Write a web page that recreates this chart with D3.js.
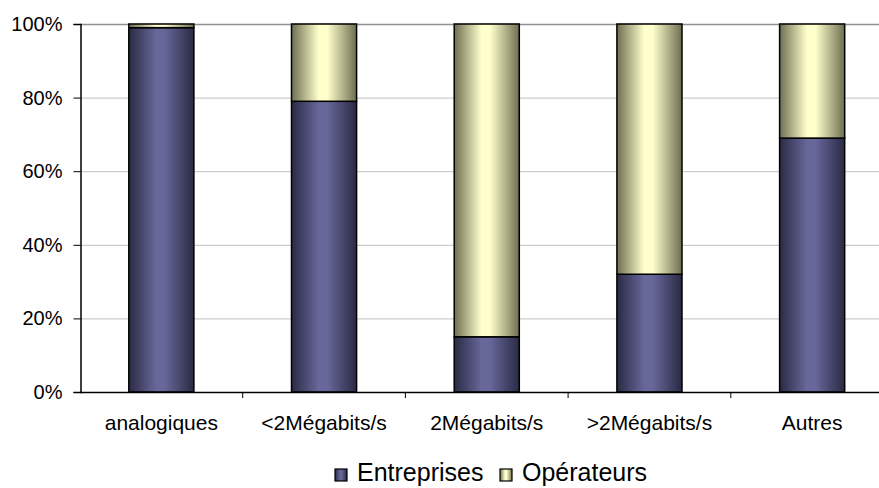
<!DOCTYPE html>
<meta charset="utf-8">
<style>
    body { margin: 0; background: #fff; }
    text { font-family: "Liberation Sans", Arial, sans-serif; fill: #000; }
    .grid line { stroke: #c0c0c0; stroke-width: 1; }
    .bar rect { stroke: #000; stroke-width: 1.5; }
</style>
<body>
<script src="https://cdnjs.cloudflare.com/ajax/libs/d3/7.8.5/d3.min.js"></script>
<script>
    var categories = ["analogiques", "<2Mégabits/s", "2Mégabits/s", ">2Mégabits/s", "Autres"];
    var entreprises = [99, 79, 15, 32, 69];
    var operateurs = [1, 21, 85, 68, 31];
    var seriesNames = ["Entreprises", "Opérateurs"];
    var yTicks = [0, 20, 40, 60, 80, 100];

    var width = 879, height = 488;
    var plotLeft = 80, plotRight = 893.5, plotTop = 24, plotBottom = 392;

    var svg = d3.select("body").append("svg")
            .attr("width", width)
            .attr("height", height);

    var defs = svg.append("defs");
    function gradient(id, edge, mid) {
        var g = defs.append("linearGradient")
                .attr("id", id)
                .attr("x1", "0%").attr("x2", "100%")
                .attr("y1", "0%").attr("y2", "0%");
        g.append("stop").attr("offset", "0%").attr("stop-color", edge);
        g.append("stop").attr("offset", "42%").attr("stop-color", mid);
        g.append("stop").attr("offset", "55%").attr("stop-color", mid);
        g.append("stop").attr("offset", "100%").attr("stop-color", edge);
    }
    gradient("gEnt", "#2a2a44", "#67679a");
    gradient("gOp", "#6e6e52", "#ffffcc");

    var x = d3.scaleBand()
            .domain(categories)
            .range([plotLeft, plotRight])
            .paddingInner(0.6)
            .paddingOuter(0.3);

    var y = d3.scaleLinear()
            .domain([0, 100])
            .range([plotBottom, plotTop]);

    // gridlines
    svg.append("g")
            .attr("class", "grid")
        .selectAll("line")
        .data(yTicks.filter(function (d) { return d > 0 && d < 100; }))
        .enter().append("line")
            .attr("x1", plotLeft).attr("x2", width)
            .attr("y1", function (d) { return y(d) + 0.5; })
            .attr("y2", function (d) { return y(d) + 0.5; });

    svg.append("line")
            .attr("x1", plotLeft).attr("x2", width)
            .attr("y1", y(100) + 0.5).attr("y2", y(100) + 0.5)
            .attr("stroke", "#909090").attr("stroke-width", 1.5);

    var data = categories.map(function (c, i) {
        return {cat: c, ent: entreprises[i], op: operateurs[i]};
    });

    var bars = svg.append("g").attr("class", "bar");
    bars.selectAll("rect.ent")
        .data(data)
        .enter().append("rect")
            .attr("class", "ent")
            .attr("x", function (d) { return x(d.cat); })
            .attr("width", x.bandwidth())
            .attr("y", function (d) { return y(d.ent); })
            .attr("height", function (d) { return y(0) - y(d.ent); })
            .attr("fill", "url(#gEnt)");
    bars.selectAll("rect.op")
        .data(data)
        .enter().append("rect")
            .attr("class", "op")
            .attr("x", function (d) { return x(d.cat); })
            .attr("width", x.bandwidth())
            .attr("y", function (d) { return y(d.ent + d.op); })
            .attr("height", function (d) { return y(d.ent) - y(d.ent + d.op); })
            .attr("fill", "url(#gOp)");

    // y axis
    var yAxis = d3.axisLeft(y)
            .tickValues(yTicks)
            .tickFormat(function (d) { return d + "%"; })
            .tickSize(7)
            .tickPadding(11);
    var yg = svg.append("g")
            .attr("transform", "translate(" + (plotLeft + 0.5) + ",0)")
            .call(yAxis);
    yg.select(".domain").attr("stroke", "#000").attr("stroke-width", 1.5);
    yg.selectAll(".tick line").attr("stroke", "#000");
    yg.selectAll("text")
            .style("font-size", "20px")
            .attr("fill", "#000");

    // x axis
    var step = x.step();
    svg.append("line")
            .attr("x1", plotLeft).attr("x2", width)
            .attr("y1", plotBottom + 0.5).attr("y2", plotBottom + 0.5)
            .attr("stroke", "#000").attr("stroke-width", 1.5);
    svg.append("g")
        .selectAll("line")
        .data(categories.slice(1))
        .enter().append("line")
            .attr("x1", function (d) { return x(d) - step * x.paddingInner() / 2; })
            .attr("x2", function (d) { return x(d) - step * x.paddingInner() / 2; })
            .attr("y1", plotBottom)
            .attr("y2", plotBottom + 6)
            .attr("stroke", "#000");

    svg.append("g")
        .selectAll("text")
        .data(categories)
        .enter().append("text")
            .attr("x", function (d) { return x(d) + x.bandwidth() / 2; })
            .attr("y", 430)
            .attr("text-anchor", "middle")
            .style("font-size", "21px")
            .text(function (d) { return d; });

    // legend (nudged up a little so descenders are not clipped)
    var legend = svg.append("g").attr("class", "legend");
    var lx = [335, 500];
    var fills = ["url(#gEnt)", "url(#gOp)"];
    seriesNames.forEach(function (name, i) {
        legend.append("rect")
                .attr("x", lx[i]).attr("y", 469)
                .attr("width", 12).attr("height", 12)
                .attr("fill", fills[i])
                .attr("stroke", "#000").attr("stroke-width", 1.2);
        legend.append("text")
                .attr("x", lx[i] + 22).attr("y", 481)
                .style("font-size", "25px")
                .text(name);
    });
</script>
